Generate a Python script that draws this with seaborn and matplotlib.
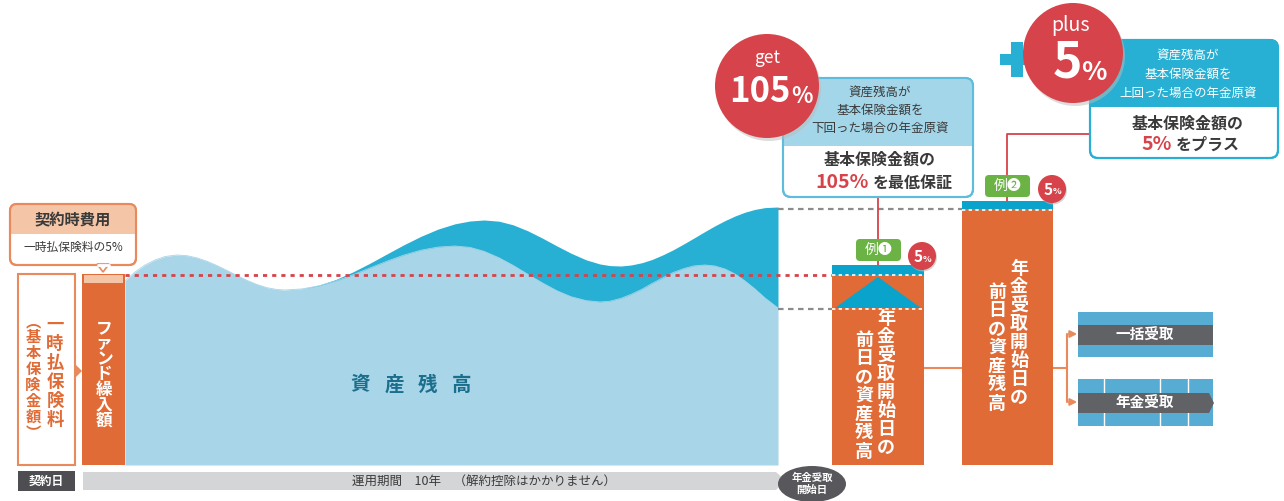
import numpy as np
import pandas as pd
import seaborn as sns
import matplotlib.pyplot as plt
from matplotlib.patches import Rectangle, FancyBboxPatch, Polygon, Circle, Ellipse

# wave of the asset balance (pixel space of the 1284x501 picture, y grows downward)
wave_x = [125, 135, 145, 155, 165, 177, 187, 197, 207, 217, 227, 237, 247, 257, 267, 277, 285,
          302, 319, 336, 353, 370, 387, 404, 421, 438, 455, 470, 484, 499, 513, 528, 542, 557,
          571, 586, 600, 610, 621, 631, 642, 652, 663, 673, 684, 694, 705, 715, 725, 735, 745,
          755, 765, 778]
wave_light = [281, 272, 265, 260, 256.5, 255, 255.7, 257.9, 261.3, 265.6, 270.5, 275.5, 280.4,
              284.5, 287.7, 289.5, 290, 288.9, 285.8, 280.9, 274.8, 268, 261.2, 255.1, 250.2,
              247.1, 246, 247.4, 251.3, 257.8, 265.3, 274.4, 282.7, 290.8, 296.7, 300.6, 302,
              301.2, 298.3, 294.4, 289.2, 283.5, 277.8, 272.6, 268.5, 265.9, 265, 266, 269, 274,
              281, 289, 298, 308]
wave_dark = [281, 272, 265, 260, 256.5, 255, 255.7, 257.9, 261.3, 265.6, 270.5, 275.5, 280.4,
             284.5, 287.7, 289.5, 290, 288.8, 285.1, 279.4, 271.9, 263.2, 253.9, 244.7, 236.3,
             229.1, 223.8, 221, 220, 221.2, 224.8, 230.9, 237.9, 246, 253.2, 259.8, 264, 265.6,
             266, 265, 262.7, 259.5, 254.8, 249.9, 243.8, 238, 231.5, 225.8, 220.6, 216, 212.2,
             209.4, 207.6, 207]
base_y = 465

premium_label = "一時払保険料"
basic_label = "︵基本保険金額︶"
fund_label = "ファンド繰入額"
bar_label_1 = "年金受取開始日の"
bar_label_2 = "前日の資産残高"

ORANGE = "#e06b36"
ORANGE_L = "#f4c5a6"
ORANGE_B = "#e98a5c"
LIGHT = "#a8d5e7"
DARK = "#27b0d3"
STRIP = "#0aa3cb"
RED = "#d6434a"
GREEN = "#6ab344"
TXT = "#3a3a3a"

sns.set_theme(style="white")
plt.rcParams['font.family'] = ['Noto Sans CJK JP', 'DejaVu Sans']

fig = plt.figure(figsize=(12.84, 5.01), dpi=100)
ax = fig.add_axes([0, 0, 1, 1])


def vtext(x, y0, step, s, **kw):
    for i, ch in enumerate(s):
        ax.text(x, y0 + i * step, ch, ha='center', va='center', **kw)


def rbox(x, y, w, h, r=6, **kw):
    p = FancyBboxPatch((x, y), w, h, boxstyle=f"round,pad=0,rounding_size={r}", **kw)
    ax.add_patch(p)
    return p


# asset balance wave
df = pd.DataFrame({"x": wave_x, "light": wave_light, "dark": wave_dark})
ax.fill_between(df.x, df.light, base_y, color=LIGHT, lw=0, zorder=1)
ax.fill_between(df.x, df.dark, df.light, color=DARK, lw=0, zorder=1)
sns.lineplot(data=df, x="x", y="light", ax=ax, color=LIGHT, lw=0.6, zorder=1, legend=False)
ax.set_xlim(0, 1284)
ax.set_ylim(501, 0)
ax.axis('off')
for i, ch in enumerate("資産残高"):
    ax.text(360 + i * 34, 385, ch, ha='center', va='center', fontsize=14,
            fontweight='bold', color="#1c6f8c", zorder=3)

# left: premium box and fund bar
ax.add_patch(Rectangle((18, 274), 57, 191, fc='white', ec=ORANGE_B, lw=1.5, zorder=2))
vtext(55, 325, 19, premium_label, fontsize=12.5, fontweight='bold', color=ORANGE, zorder=3)
vtext(33, 321, 16, basic_label, fontsize=11, fontweight='bold', color=ORANGE, zorder=3)
ax.add_patch(Polygon([(75, 364), (82, 371), (75, 378)], fc=ORANGE_B, ec='none', zorder=3))
ax.add_patch(Rectangle((82, 274), 43, 191, fc=ORANGE, ec='none', zorder=2))
ax.add_patch(Rectangle((84, 275), 39, 8, fc=ORANGE_L, ec='none', zorder=3))
vtext(104, 328, 15.5, fund_label, fontsize=12, fontweight='bold', color='white', zorder=3)

# contract cost callout
b = rbox(10, 204, 126, 61, r=7, fc='white', ec=ORANGE_B, lw=1.5, zorder=4)
top = Rectangle((10, 204), 126, 30, fc=ORANGE_L, ec='none', zorder=4)
ax.add_patch(top)
top.set_clip_path(b)
rbox(10, 204, 126, 61, r=7, fc='none', ec=ORANGE_B, lw=1.5, zorder=5)
ax.add_patch(Polygon([(97, 264), (103, 272), (109, 264)], fc='white', ec=ORANGE_B, lw=1.2, zorder=5))
ax.plot([97.5, 108.5], [264.5, 264.5], color='white', lw=2, zorder=5)
ax.text(73, 219, "契約時費用", ha='center', va='center', fontsize=11, fontweight='bold', color=TXT, zorder=6)
ax.text(73, 247, "一時払保険料の5%", ha='center', va='center', fontsize=8.5, color=TXT, zorder=6)

# reference lines
ax.plot([125, 832], [275, 275], color=RED, lw=2, ls=(0, (1.5, 1.8)), zorder=2)
ax.plot([778, 962], [209, 209], color="#8c8c8c", lw=1.6, ls=(0, (2.5, 2)), zorder=2)
ax.plot([778, 832], [309, 309], color="#8c8c8c", lw=1.6, ls=(0, (2.5, 2)), zorder=2)

# example bars
ax.plot([878, 878], [197, 265], color=RED, lw=1.3, zorder=2)
ax.plot([1007, 1007, 1090], [201, 134, 134], color=RED, lw=1.3, zorder=2)
ax.add_patch(Rectangle((832, 265), 92, 200, fc=ORANGE, ec='none', zorder=3))
ax.add_patch(Rectangle((832, 265), 92, 10, fc=STRIP, ec='none', zorder=3))
ax.add_patch(Polygon([(835, 308), (878, 277), (921, 308)], fc=STRIP, ec='none', zorder=3))
ax.plot([832, 924], [275, 275], color='white', lw=1.2, ls=(0, (2, 2)), zorder=4)
ax.plot([832, 924], [309, 309], color='white', lw=1.2, ls=(0, (2, 2)), zorder=4)
vtext(886, 318, 18.5, bar_label_1, fontsize=13, fontweight='bold', color='white', zorder=4)
vtext(864, 340, 18.5, bar_label_2, fontsize=13, fontweight='bold', color='white', zorder=4)

ax.add_patch(Rectangle((962, 201), 91, 264, fc=ORANGE, ec='none', zorder=3))
ax.add_patch(Rectangle((962, 201), 91, 8, fc=STRIP, ec='none', zorder=3))
ax.plot([962, 1053], [209.5, 209.5], color='white', lw=1.2, ls=(0, (2, 2)), zorder=4)
vtext(1019, 268, 18.5, bar_label_1, fontsize=13, fontweight='bold', color='white', zorder=4)
vtext(997, 292, 18.5, bar_label_2, fontsize=13, fontweight='bold', color='white', zorder=4)

for (x0, y0, lab) in [(856, 239, "例❶"), (985, 175, "例❷")]:
    rbox(x0, y0, 45, 22, r=4, fc=GREEN, ec='none', zorder=5)
    ax.text(x0 + 22.5, y0 + 11, lab, ha='center', va='center', fontsize=10, color='white', zorder=6)
for (cx, cy) in [(922, 256), (1052, 189)]:
    ax.add_patch(Circle((cx + 1, cy + 1.5), 14, fc="#bbbbbb", ec='none', alpha=0.6, zorder=5))
    ax.add_patch(Circle((cx, cy), 14, fc=RED, ec='none', zorder=5))
    ax.text(cx + 1, cy + 1, "5", ha='right', va='center', fontsize=11, fontweight='bold', color='white', zorder=6)
    ax.text(cx + 1, cy + 3, "%", ha='left', va='center', fontsize=6.5, fontweight='bold', color='white', zorder=6)

# connectors to payout choices
ax.plot([924, 962], [368, 368], color=ORANGE_B, lw=1.5, zorder=2)
ax.plot([1053, 1067], [368, 368], color=ORANGE_B, lw=1.5, zorder=2)
ax.plot([1067, 1067], [334, 402], color=ORANGE_B, lw=1.5, zorder=2)
for yy in [334, 402]:
    ax.annotate("", xy=(1080, yy), xytext=(1066.3, yy),
                arrowprops=dict(arrowstyle="-|>", color=ORANGE_B, lw=1.5, mutation_scale=10), zorder=3)

ax.add_patch(Rectangle((1078, 312), 135, 45, fc="#56acd3", ec='none', zorder=2))
ax.add_patch(Rectangle((1078, 325), 135, 20, fc="#616266", ec='none', zorder=3))
ax.text(1145, 335, "一括受取", ha='center', va='center', fontsize=10.5, fontweight='bold', color='white', zorder=4)
ax.add_patch(Rectangle((1078, 379), 135, 47, fc="#56acd3", ec='none', zorder=2))
for xv in [1104, 1160, 1188]:
    ax.plot([xv, xv], [379, 426], color='white', lw=1, zorder=2)
ax.add_patch(Polygon([(1078, 393), (1209, 393), (1214, 403), (1209, 413), (1078, 413)],
                     fc="#616266", ec='none', zorder=3))
ax.text(1145, 403, "年金受取", ha='center', va='center', fontsize=10.5, fontweight='bold', color='white', zorder=4)

# timeline
ax.add_patch(Rectangle((18, 471), 57, 20, fc="#4d4d52", ec='none', zorder=2))
ax.text(46.5, 481, "契約日", ha='center', va='center', fontsize=8.5, fontweight='bold', color='white', zorder=3)
ax.add_patch(Polygon([(83, 472), (776, 472), (786, 481), (776, 490), (83, 490)], fc="#d4d5d7", ec='none', zorder=2))
ax.text(484, 481, "運用期間　10年　（解約控除はかかりません）", ha='center', va='center',
        fontsize=9, color=TXT, zorder=3)
ax.add_patch(Ellipse((812, 484), 68, 36, fc="#58585c", ec='none', zorder=3))
ax.text(812, 484, "年金受取\n開始日", ha='center', va='center', fontsize=7.5, fontweight='bold',
        color='white', linespacing=1.2, zorder=4)

# callout 105%
b = rbox(783, 78, 190, 119, r=8, fc='white', ec="#5fbcdc", lw=1.5, zorder=4)
top = Rectangle((783, 78), 190, 68, fc="#a3d6e9", ec='none', zorder=4)
ax.add_patch(top)
top.set_clip_path(b)
rbox(783, 78, 190, 119, r=8, fc='none', ec="#5fbcdc", lw=1.5, zorder=5)
for yy, s in [(92, "資産残高が"), (110, "基本保険金額を"), (128, "下回った場合の年金原資")]:
    ax.text(880, yy, s, ha='center', va='center', fontsize=9, color=TXT, zorder=6)
ax.text(880, 160, "基本保険金額の", ha='center', va='center', fontsize=11.5, fontweight='bold', color=TXT, zorder=6)
ax.text(869, 183, "105%", ha='right', va='center', fontsize=14, fontweight='bold', color=RED, zorder=6)
ax.text(873, 183, "を最低保証", ha='left', va='center', fontsize=11.5, fontweight='bold', color=TXT, zorder=6)
ax.add_patch(Circle((769, 89), 52, fc="#bbbbbb", ec='none', alpha=0.5, zorder=6))
ax.add_patch(Circle((767, 86), 52, fc=RED, ec='none', zorder=7))
ax.text(767, 58, "get", ha='center', va='center', fontsize=12.5, color='white', zorder=8)
ax.text(791, 91, "105", ha='right', va='center', fontsize=25, fontweight='bold', color='white', zorder=8)
ax.text(791, 96, "%", ha='left', va='center', fontsize=16, fontweight='bold', color='white', zorder=8)

# callout plus 5%
b = rbox(1090, 40, 188, 118, r=8, fc='white', ec=DARK, lw=1.5, zorder=4)
top = Rectangle((1090, 40), 188, 67, fc=DARK, ec='none', zorder=4)
ax.add_patch(top)
top.set_clip_path(b)
rbox(1090, 40, 188, 118, r=8, fc='none', ec=DARK, lw=1.5, zorder=5)
for yy, s in [(55, "資産残高が"), (74, "基本保険金額を"), (93, "上回った場合の年金原資")]:
    ax.text(1188, yy, s, ha='center', va='center', fontsize=9, color='white', zorder=6)
ax.text(1188, 124, "基本保険金額の", ha='center', va='center', fontsize=11.5, fontweight='bold', color=TXT, zorder=6)
ax.text(1172, 145, "5%", ha='right', va='center', fontsize=14, fontweight='bold', color=RED, zorder=6)
ax.text(1176, 145, "をプラス", ha='left', va='center', fontsize=11.5, fontweight='bold', color=TXT, zorder=6)
ax.add_patch(Rectangle((1000, 54), 42, 11, fc=DARK, ec='none', zorder=6))
ax.add_patch(Rectangle((1011, 42), 12, 35, fc=DARK, ec='none', zorder=6))
ax.add_patch(Circle((1075, 56), 50, fc="#bbbbbb", ec='none', alpha=0.5, zorder=6))
ax.add_patch(Circle((1073, 53), 50, fc=RED, ec='none', zorder=7))
ax.text(1071, 25, "plus", ha='center', va='center', fontsize=14, color='white', zorder=8)
ax.text(1082, 63, "5", ha='right', va='center', fontsize=36, fontweight='bold', color='white', zorder=8)
ax.text(1081, 72, "%", ha='left', va='center', fontsize=19, fontweight='bold', color='white', zorder=8)

fig.savefig("out.png", dpi=100)
